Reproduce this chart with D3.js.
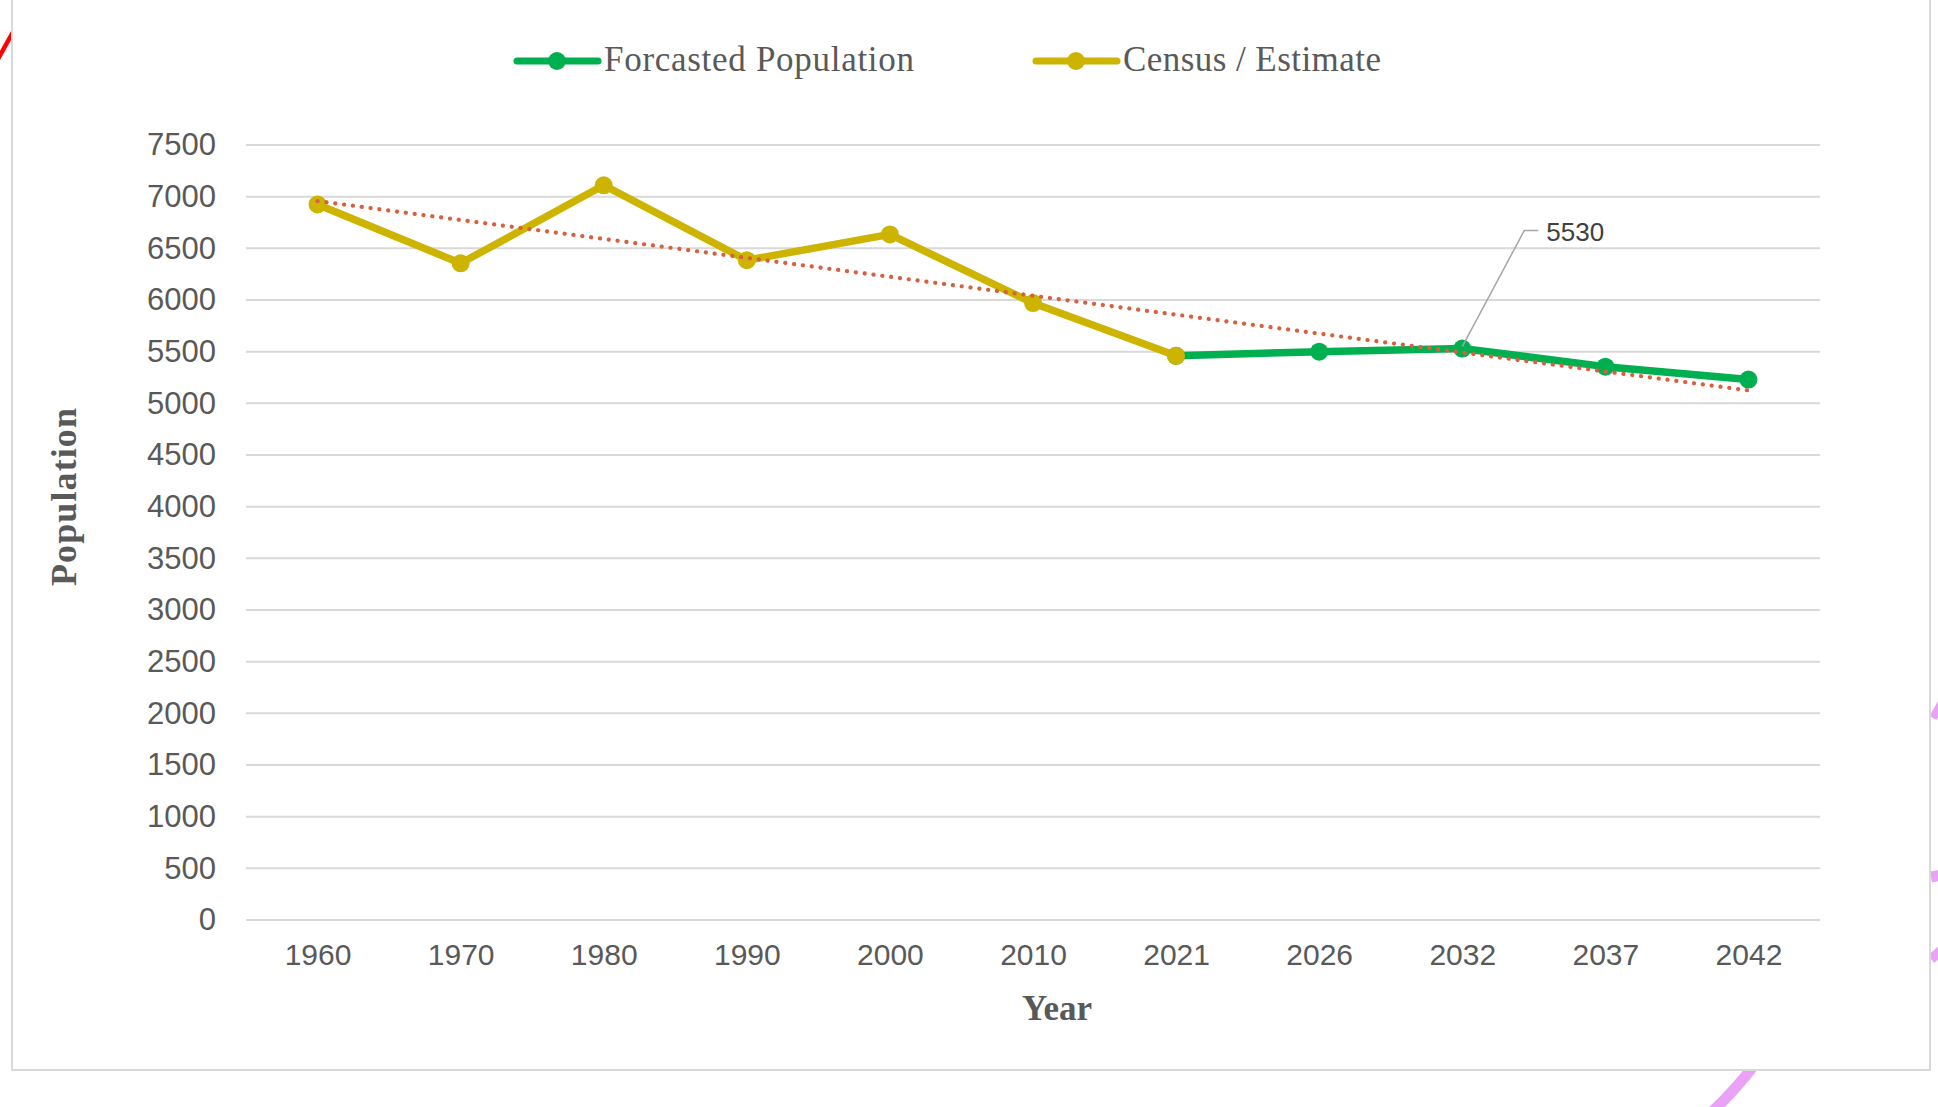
<!DOCTYPE html>
<html>
<head>
<meta charset="utf-8">
<script src="https://cdn.jsdelivr.net/npm/d3@7"></script>
<style>
    body { margin: 0; background: #ffffff; }
    svg { display: block; }
</style>
</head>
<body>
<div id="chart-area"></div>
<script>
// data
let years = ["1960", "1970", "1980", "1990", "2000", "2010", "2021", "2026", "2032", "2037", "2042"];
let censusYears = ["1960", "1970", "1980", "1990", "2000", "2010", "2021"];
let censusValues = [6925, 6355, 7110, 6385, 6635, 5970, 5460];
let forecastYears = ["2021", "2026", "2032", "2037", "2042"];
let forecastValues = [5460, 5500, 5530, 5355, 5230];
let yTicks = [0, 500, 1000, 1500, 2000, 2500, 3000, 3500, 4000, 4500, 5000, 5500, 6000, 6500, 7000, 7500];
let labelYear = "2032";

let width = 1938,
    height = 1107;
let margin = {top: 145, right: 118, bottom: 187, left: 246};

let svg = d3.select("#chart-area")
    .append("svg")
    .attr("width", width)
    .attr("height", height);

// decorations around the chart frame
let deco = svg.append("g");
deco.append("line")
    .attr("x1", -2).attr("y1", 59)
    .attr("x2", 13).attr("y2", 32)
    .attr("stroke", "#ff0000")
    .attr("stroke-width", 4.5);
deco.append("path")
    .attr("d", "M1933,718 L1942,702")
    .attr("stroke", "#eaa2f7").attr("stroke-width", 8).attr("fill", "none");
deco.append("path")
    .attr("d", "M1931,877 L1942,875")
    .attr("stroke", "#eaa2f7").attr("stroke-width", 11).attr("fill", "none");
deco.append("path")
    .attr("d", "M1931,959 L1942,950")
    .attr("stroke", "#eaa2f7").attr("stroke-width", 10).attr("fill", "none");
deco.append("path")
    .attr("d", "M1752,1068 Q1735,1090 1712,1112")
    .attr("stroke", "#eaa2f7").attr("stroke-width", 11).attr("fill", "none");

// chart frame
svg.append("rect")
    .attr("x", 12)
    .attr("y", -10)
    .attr("width", 1918)
    .attr("height", 1080)
    .attr("fill", "#ffffff")
    .attr("stroke", "#d9d9d9")
    .attr("stroke-width", 2);

// scales
let x = d3.scalePoint()
    .domain(years)
    .range([margin.left, width - margin.right])
    .padding(0.5);

let y = d3.scaleLinear()
    .domain([0, 7500])
    .range([height - margin.bottom, margin.top]);

// gridlines
svg.append("g")
    .selectAll("line")
    .data(yTicks)
    .enter()
    .append("line")
    .attr("x1", margin.left)
    .attr("x2", width - margin.right)
    .attr("y1", function(d) { return y(d); })
    .attr("y2", function(d) { return y(d); })
    .attr("stroke", "#d9d9d9")
    .attr("stroke-width", 2);

// y axis labels
let yAxis = d3.axisLeft(y)
    .tickValues(yTicks)
    .tickFormat(d3.format("d"))
    .tickSize(0)
    .tickPadding(30);

svg.append("g")
    .attr("class", "y-axis")
    .attr("transform", "translate(" + margin.left + ",0)")
    .call(yAxis)
    .call(function(g) { g.select(".domain").remove(); })
    .selectAll("text")
    .attr("font-family", "'Liberation Sans', Arial, sans-serif")
    .attr("font-size", 31)
    .attr("fill", "#595959");

// x axis labels
let xAxis = d3.axisBottom(x)
    .tickSize(0)
    .tickPadding(24);

svg.append("g")
    .attr("class", "x-axis")
    .attr("transform", "translate(0," + (height - margin.bottom) + ")")
    .call(xAxis)
    .call(function(g) { g.select(".domain").remove(); })
    .selectAll("text")
    .attr("font-family", "'Liberation Sans', Arial, sans-serif")
    .attr("font-size", 30)
    .attr("fill", "#595959");

// axis titles
svg.append("text")
    .attr("x", 1057)
    .attr("y", 1020)
    .attr("text-anchor", "middle")
    .attr("font-family", "'Liberation Serif', serif")
    .attr("font-weight", "bold")
    .attr("font-size", 35)
    .attr("fill", "#595959")
    .text("Year");

svg.append("text")
    .attr("transform", "translate(76,497) rotate(-90)")
    .attr("text-anchor", "middle")
    .attr("font-family", "'Liberation Serif', serif")
    .attr("font-weight", "bold")
    .attr("font-size", 36)
    .attr("textLength", 178)
    .attr("fill", "#595959")
    .text("Population");

let line = d3.line()
    .x(function(d) { return x(d.year); })
    .y(function(d) { return y(d.value); });

function drawSeries(yrs, vals, color) {
    let pts = yrs.map(function(d, i) { return {year: d, value: vals[i]}; });
    let g = svg.append("g");
    g.append("path")
        .datum(pts)
        .attr("d", line)
        .attr("fill", "none")
        .attr("stroke", color)
        .attr("stroke-width", 7.5)
        .attr("stroke-linejoin", "round");
    g.selectAll("circle")
        .data(pts)
        .enter()
        .append("circle")
        .attr("cx", function(d) { return x(d.year); })
        .attr("cy", function(d) { return y(d.value); })
        .attr("r", 9)
        .attr("fill", color);
}

// forecast first, census on top
drawSeries(forecastYears, forecastValues, "#00b050");
drawSeries(censusYears, censusValues, "#ccb400");

// linear trendline over all points
let allVals = censusValues.concat(forecastValues.slice(1));
let n = allVals.length;
let mx = (n + 1) / 2;
let my = d3.mean(allVals);
let sxy = 0, sxx = 0;
allVals.forEach(function(v, i) {
    sxy += (i + 1 - mx) * (v - my);
    sxx += (i + 1 - mx) * (i + 1 - mx);
});
let slope = sxy / sxx;
let trend = [
    {year: years[0], value: my + slope * (1 - mx)},
    {year: years[n - 1], value: my + slope * (n - mx)}
];
svg.append("path")
    .datum(trend)
    .attr("d", line)
    .attr("fill", "none")
    .attr("stroke", "#d9603f")
    .attr("stroke-width", 4.2)
    .attr("stroke-linecap", "round")
    .attr("stroke-dasharray", "0.1 8.8");

// data label with leader line
let labelVal = forecastValues[forecastYears.indexOf(labelYear)];
let lx = x(labelYear),
    ly = y(labelVal);
svg.append("path")
    .attr("d", "M" + lx + "," + (ly - 2) + " L" + (lx + 62) + "," + (ly - 118) + " h14")
    .attr("fill", "none")
    .attr("stroke", "#a6a6a6")
    .attr("stroke-width", 1.5);
svg.append("text")
    .attr("x", lx + 84)
    .attr("y", ly - 108)
    .attr("font-family", "'Liberation Sans', Arial, sans-serif")
    .attr("font-size", 26)
    .attr("fill", "#404040")
    .text(labelVal);

// legend
let legendItems = [
    {name: "Forcasted Population", color: "#00b050", x: 517, len: 310},
    {name: "Census / Estimate", color: "#ccb400", x: 1036, len: 258}
];
let legend = svg.append("g")
    .selectAll("g")
    .data(legendItems)
    .enter()
    .append("g")
    .attr("transform", function(d) { return "translate(" + d.x + ",61)"; });
legend.append("line")
    .attr("x1", 0).attr("x2", 81)
    .attr("stroke", function(d) { return d.color; })
    .attr("stroke-width", 7)
    .attr("stroke-linecap", "round");
legend.append("circle")
    .attr("cx", 40)
    .attr("r", 9)
    .attr("fill", function(d) { return d.color; });
legend.append("text")
    .attr("x", 87)
    .attr("y", 10)
    .attr("font-family", "'Liberation Serif', serif")
    .attr("font-size", 35)
    .attr("fill", "#595959")
    .attr("textLength", function(d) { return d.len; })
    .text(function(d) { return d.name; });
</script>
</body>
</html>
